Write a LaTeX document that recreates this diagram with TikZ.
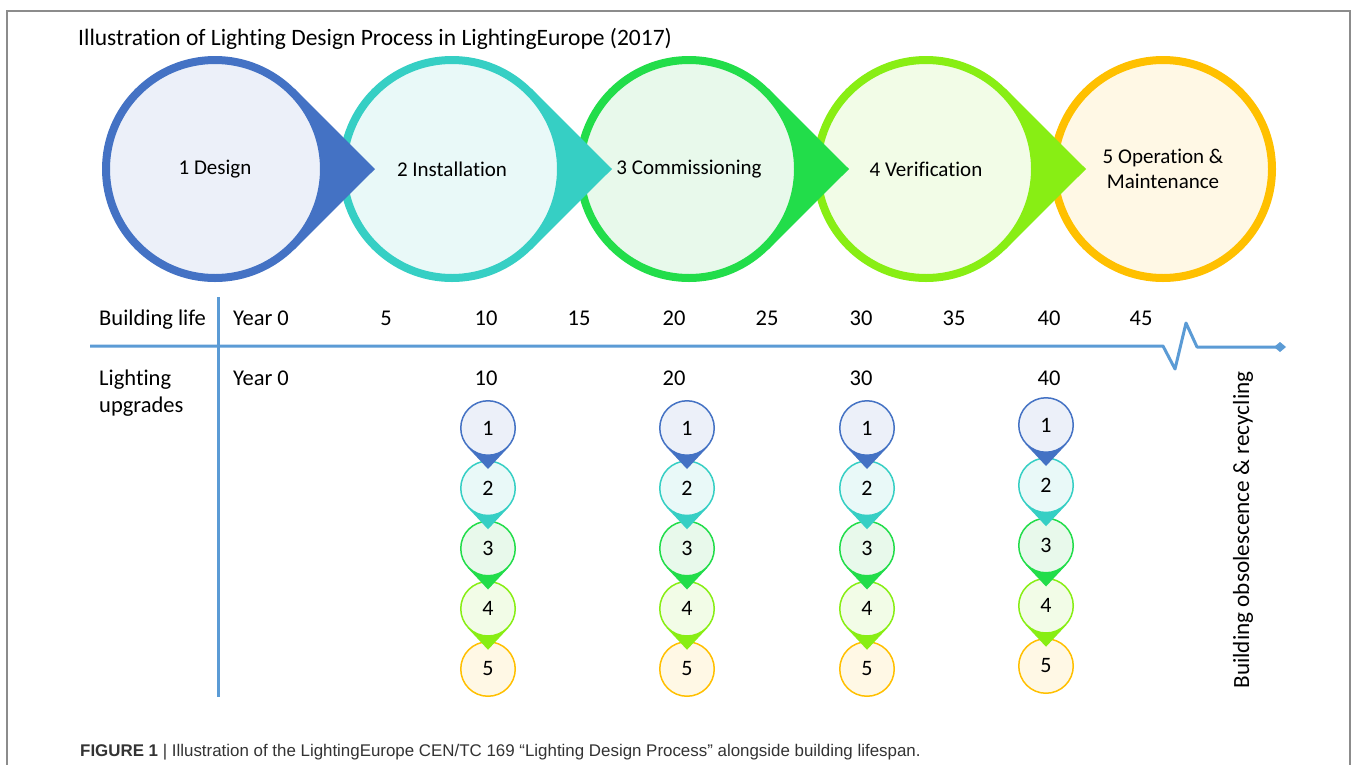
\documentclass[tikz,border=0pt]{standalone}
\usepackage{fontspec}
\setmainfont{Carlito}[Ligatures=CommonOff]
\newfontfamily\capfont{Liberation Sans}
\usetikzlibrary{calc}
\definecolor{stroke1}{HTML}{4472C4}\definecolor{light1}{HTML}{ECF0F9}
\definecolor{stroke2}{HTML}{36CFC4}\definecolor{light2}{HTML}{E9F9F8}
\definecolor{stroke3}{HTML}{22DD4A}\definecolor{light3}{HTML}{E8F9EB}
\definecolor{stroke4}{HTML}{88EE14}\definecolor{light4}{HTML}{F2FCE7}
\definecolor{stroke5}{HTML}{FFC000}\definecolor{light5}{HTML}{FFF8E5}
\definecolor{axiscol}{HTML}{5B9BD5}
\definecolor{framecol}{HTML}{8C8C8C}
\definecolor{capcol}{HTML}{333333}
\tikzset{
  bigstage/.style={circle, inner sep=0pt, minimum size=218pt, line width=8pt, align=center, font=\fontsize{21}{25}\selectfont},
  smallstage/.style={circle, inner sep=0pt, minimum size=54.5pt, line width=1.5pt, font=\fontsize{22}{26}\selectfont},
  lbl/.style={inner sep=0pt, font=\fontsize{22.5}{27}\selectfont},
  axisline/.style={axiscol, line width=3pt, line join=round}
}
\begin{document}
\begin{tikzpicture}[x=1pt,y=-1pt]
\useasboundingbox (0,0) rectangle (1357,764);
\fill[white] (0,0) rectangle (1357,764);
% frame
\draw[framecol, line width=1.2pt] (7,766) -- (7,11) -- (1350,11) -- (1350,766);
% title
\node[lbl, anchor=base west, font=\fontsize{23.5}{28}\selectfont] (title) at (78,45) {Illustration of Lighting Design Process in LightingEurope (2017)};
% big stages, drawn right to left
\coordinate (c5) at (1163,169);
\coordinate (c4) at (926,169);
\coordinate (c3) at (689,169);
\coordinate (c2) at (452,169);
\coordinate (c1) at (215,169);
\node[bigstage, draw=stroke5, fill=light5] (s5) at (c5) {5 Operation \&\\Maintenance};
\fill[stroke4] ($(c4)+(160,0)$) -- ($(c4)+(79.8,-80)$) -- ($(c4)+(79.8,80)$) -- cycle;
\node[bigstage, draw=stroke4, fill=light4] (s4) at (c4) {4 Verification};
\fill[stroke3] ($(c3)+(160,0)$) -- ($(c3)+(79.8,-80)$) -- ($(c3)+(79.8,80)$) -- cycle;
\node[bigstage, draw=stroke3, fill=light3] (s3) at (c3) {3 Commissioning};
\fill[stroke2] ($(c2)+(160,0)$) -- ($(c2)+(79.8,-80)$) -- ($(c2)+(79.8,80)$) -- cycle;
\node[bigstage, draw=stroke2, fill=light2] (s2) at (c2) {2 Installation};
\fill[stroke1] ($(c1)+(160,0)$) -- ($(c1)+(79.8,-80)$) -- ($(c1)+(79.8,80)$) -- cycle;
\node[bigstage, draw=stroke1, fill=light1] (s1) at (c1) {1 Design};
% axes
\coordinate (hstart) at (90,346);
\coordinate (z1) at (1163,346);
\coordinate (z2) at (1175,369);
\coordinate (z3) at (1186,323);
\coordinate (z4) at (1197,347);
\coordinate (hend) at (1280,347);
\draw[axisline] (hstart) -- (z1) -- (z2) -- (z3) -- (z4) -- (hend);
\fill[axiscol] (hend) ++(-6,0) -- ++(6,-5) -- ++(6,5) -- ++(-6,5) -- cycle;
\coordinate (vtop) at (218,297);
\coordinate (vbot) at (218,697);
\draw[axisline] (vtop) -- (vbot);
% row labels
\node[lbl, anchor=base west] (bl) at (99,325) {Building life};
\node[lbl, anchor=base west] (y0a) at (233,325) {Year 0};
\foreach \v/\x in {5/386,10/486,15/579,20/674,25/767,30/861,35/954,40/1049,45/1141}
  \node[lbl, anchor=base] (b\v) at (\x,325) {\v};
\node[lbl, anchor=base west] (lu1) at (99,385) {Lighting};
\node[lbl, anchor=base west] (lu2) at (99,412) {upgrades};
\node[lbl, anchor=base west] (y0b) at (233,385) {Year 0};
\foreach \v/\x in {10/486,20/674,30/861,40/1049}
  \node[lbl, anchor=base] (l\v) at (\x,385) {\v};
% small stages
\foreach \cx/\dy [count=\k] in {488/0, 687/0, 867/0, 1046/-3} {
  \foreach \i in {5,4,3,2,1} {
    \pgfmathsetmacro\cy{428+(\i-1)*60.25+\dy}
    \coordinate (p\k\i) at (\cx,\cy);
    \ifnum\i<5
      \fill[stroke\i] ($(p\k\i)+(0,41)$) -- ($(p\k\i)+(-20.45,19.13)$) -- ($(p\k\i)+(20.45,19.13)$) -- cycle;
    \fi
    \node[smallstage, draw=stroke\i, fill=light\i] (u\k\i) at (p\k\i) {\i};
  }
}
% end label
\node[lbl, rotate=90, font=\fontsize{23.2}{27}\selectfont] (obs) at (1243,530) {Building obsolescence \& recycling};
% caption
\node[inner sep=0pt, anchor=base west, text=capcol, font=\capfont\fontsize{16.9}{20}\selectfont] (cap) at (80,756)
  {\textbf{FIGURE 1} | Illustration of the LightingEurope CEN/TC 169 “Lighting Design Process” alongside building lifespan.};
\end{tikzpicture}
\end{document}
